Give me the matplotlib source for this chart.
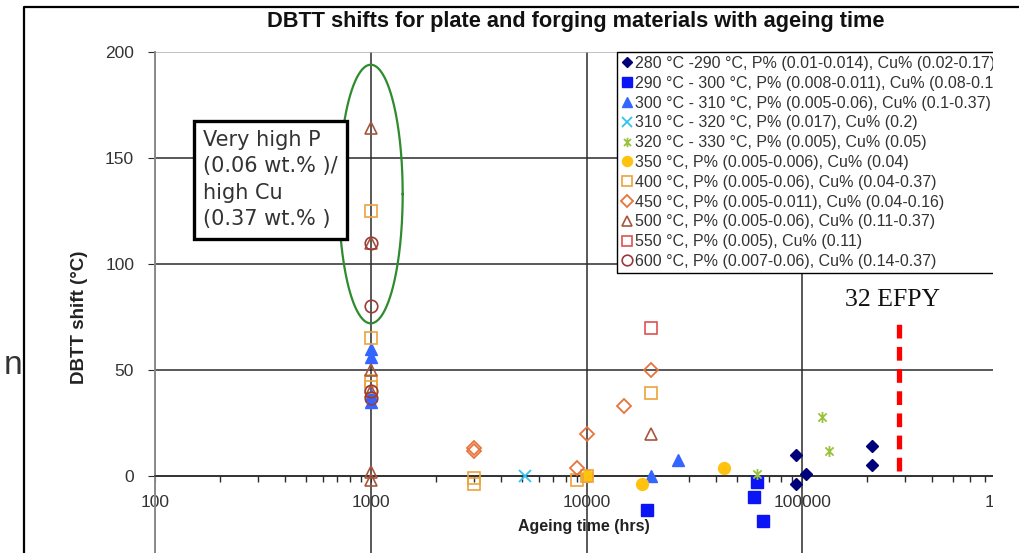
import numpy as np
import matplotlib
matplotlib.use("Agg")
import matplotlib.pyplot as plt
from matplotlib.lines import Line2D
from matplotlib.patches import Rectangle
from matplotlib.path import Path
from matplotlib.ticker import FixedLocator, FuncFormatter, LogLocator, NullFormatter

plt.rcParams["font.family"] = ["Liberation Sans", "DejaVu Sans"]

# --- data (ageing time in hrs, DBTT shift in degC) ---
labels = [
    "280 °C -290 °C, P% (0.01-0.014), Cu% (0.02-0.17)",
    "290 °C - 300 °C, P% (0.008-0.011), Cu% (0.08-0.13)",
    "300 °C - 310 °C, P% (0.005-0.06), Cu% (0.1-0.37)",
    "310 °C - 320 °C, P% (0.017), Cu% (0.2)",
    "320 °C - 330 °C, P% (0.005), Cu% (0.05)",
    "350 °C, P% (0.005-0.006), Cu% (0.04)",
    "400 °C, P% (0.005-0.06), Cu% (0.04-0.37)",
    "450 °C, P% (0.005-0.011), Cu% (0.04-0.16)",
    "500 °C, P% (0.005-0.06), Cu% (0.11-0.37)",
    "550 °C, P% (0.005), Cu% (0.11)",
    "600 °C, P% (0.007-0.06), Cu% (0.14-0.37)",
]
x280 = [94000, 94000, 104000, 210000, 210000]
y280 = [10, -4, 1, 14, 5]
x290 = [19000, 62000, 60000, 66000]
y290 = [-16, -3, -10, -21]
x300 = [1000, 1000, 1000, 1000, 20000, 26500]
y300 = [60, 56, 38, 35, 0, 7.5]
x310 = [5200]
y310 = [0]
x320 = [62000, 123000, 133000]
y320 = [1, 28, 12]
x350 = [10000, 18000, 43500]
y350 = [0, -4, 4]
x400 = [1000, 1000, 1000, 1000, 3000, 3000, 9000, 10000, 20000]
y400 = [125, 65, 45, 42, -1, -4, -2, 0, 39]
x450 = [3000, 3000, 9000, 10000, 15000, 20000]
y450 = [13, 12, 4, 20, 33, 50]
x500 = [1000, 1000, 1000, 1000, 1000, 1000, 20000]
y500 = [164, 110, 50, 40, 2, -2, 20]
x550 = [20000]
y550 = [70]
x600 = [1000, 1000, 1000, 1000]
y600 = [110, 80, 40, 37]

efpy_hours = 32 * 8766  # 32 EFPY
efpy_top = 75
x_ticks = [100, 1000, 10000, 100000, 1000000]
y_ticks = [0, 50, 100, 150, 200]

# asterisk marker (x with a vertical bar), like Excel's star
star = Path(
    [(-1, -1), (1, 1), (-1, 1), (1, -1), (0, -1.35), (0, 1.35)],
    [Path.MOVETO, Path.LINETO, Path.MOVETO, Path.LINETO, Path.MOVETO, Path.LINETO],
)

W, H = 1019, 553
fig = plt.figure(figsize=(W / 100, H / 100), dpi=100)

# axes: x 100..1e6 spans px 155..1018, y -50..200 spans px 582..52
ax = fig.add_axes([155 / W, (H - 582) / H, 863 / W, 530 / H])
ax.set_xscale("log")
ax.set_xlim(100, 1000000)
ax.set_ylim(-50, 200)

series = [
    (x280, y280, dict(marker="D", ms=6.5, mfc="#00007a", mec="#00007a")),
    (x290, y290, dict(marker="s", ms=8, mfc="#0a14f5", mec="#0a14f5")),
    (x300, y300, dict(marker="^", ms=8.5, mfc="#3366ff", mec="#3366ff")),
    (x310, y310, dict(marker="x", ms=8, mfc="none", mec="#33c3f0", mew=1.3)),
    (x320, y320, dict(marker=star, ms=8, mfc="none", mec="#99c33c", mew=1.3)),
    (x350, y350, dict(marker="o", ms=8.5, mfc="#ffc20e", mec="#ffc20e")),
    (x400, y400, dict(marker="s", ms=8.5, mfc="none", mec="#eba33c", mew=1.2)),
    (x450, y450, dict(marker="D", ms=7, mfc="none", mec="#e8743c", mew=1.3)),
    (x500, y500, dict(marker="^", ms=8.5, mfc="none", mec="#a8553c", mew=1.2)),
    (x550, y550, dict(marker="s", ms=9, mfc="none", mec="#e05050", mew=1.2)),
    (x600, y600, dict(marker="o", ms=9, mfc="none", mec="#9c3a3a", mew=1.2)),
]
handles = []
for (xs, ys, st), lab in zip(series, labels):
    h, = ax.plot(xs, ys, ls="none", label=lab, zorder=3, **st)
    handles.append(h)

# grid, spines, ticks
ax.set_axisbelow(True)
ax.xaxis.set_major_locator(FixedLocator(x_ticks))
ax.xaxis.set_minor_locator(LogLocator(base=10, subs=np.arange(2, 10)))
ax.xaxis.set_major_formatter(FuncFormatter(lambda v, p: f"{v:.0f}"))
ax.xaxis.set_minor_formatter(NullFormatter())
ax.set_yticks(y_ticks)
ax.grid(True, which="major", color="#2b2b2b", lw=1.1)
ax.yaxis.get_gridlines()[-1].set_color("#b0b0b0")
ax.xaxis.get_gridlines()[0].set_visible(False)
for s in ("top", "right"):
    ax.spines[s].set_visible(False)
ax.spines["bottom"].set_position(("data", 0))
ax.spines["bottom"].set_color("#2b2b2b")
ax.spines["bottom"].set_linewidth(1.1)
ax.spines["left"].set_color("#8a8a8a")
ax.spines["left"].set_linewidth(1.4)
ax.tick_params(axis="x", which="both", direction="out", color="#2b2b2b",
               labelsize=12.5, labelcolor="#333333", pad=10)
ax.tick_params(axis="x", which="major", length=4)
ax.tick_params(axis="x", which="minor", length=4, width=1)
ax.tick_params(axis="y", direction="out", length=5, color="#2b2b2b",
               labelsize=12.5, labelcolor="#333333", pad=10)

ax.set_xlabel("Ageing time (hrs)", fontsize=11.5, fontweight="bold", color="#222222")
ax.xaxis.set_label_coords(0.497, (582 - 527) / 530)
ax.xaxis.label.set_va("center")
ax.set_ylabel("DBTT shift (°C)", fontsize=13.5, fontweight="bold", color="#222222")
ax.yaxis.set_label_coords((88 - 155) / 863, 0.5)

# green ellipse around the 1000 h cluster
t = np.linspace(0, 2 * np.pi, 300)
ax.plot(1000 * 10 ** (0.148 * np.cos(t)), 133 + 61 * np.sin(t),
        color="#2e8b2e", lw=1.6, zorder=2)

# 32 EFPY marker
ax.plot([efpy_hours, efpy_hours], [2.5, efpy_top], color="#ff0000", lw=3.8,
        dashes=(2.6, 1.6), zorder=3)
ax.text(efpy_hours * 0.93, 83, "32 EFPY", family="Liberation Serif", fontsize=18.5,
        ha="center", va="center", color="#111111")

# annotation box
ax.annotate("Very high P\n(0.06 wt.% )/\nhigh Cu\n(0.37 wt.% )",
            xy=(203 / W, (H - 130) / H), xycoords="figure fraction",
            ha="left", va="top", family="DejaVu Sans", fontsize=15,
            color="#333333", linespacing=1.4,
            bbox=dict(boxstyle="square,pad=0.45", fc="white", ec="black", lw=2.4),
            zorder=4)

leg = ax.legend(handles=handles, loc="upper left",
                bbox_to_anchor=(617 / W, (H - 52) / H), bbox_transform=fig.transFigure,
                fontsize=11.5, handlelength=0.7, handletextpad=0.15, labelspacing=0.3,
                borderpad=0.25, borderaxespad=0, frameon=True, fancybox=False,
                edgecolor="black", framealpha=1, markerscale=0.85)
leg.get_frame().set_linewidth(1.0)
for txt in leg.get_texts():
    txt.set_color("#333333")
leg.set_zorder(5)

# the reference is cropped on the right: blank out past x=993
fig.add_artist(Rectangle((993 / W, 0), (W - 993) / W, (H - 11) / H,
                         transform=fig.transFigure, fc="white", ec="none", zorder=10))

# title and outer chart frame
fig.text(576 / W, 1 - 22 / H, "DBTT shifts for plate and forging materials with ageing time",
         ha="center", va="center", fontsize=15.7, fontweight="bold", color="#111111")
fig.add_artist(Line2D([24 / W, 24 / W, 1], [0, 1 - 7 / H, 1 - 7 / H],
                      transform=fig.transFigure, color="black", lw=1.6, zorder=11))
fig.text(13 / W, 1 - 366 / H, "n", fontsize=24, color="#333333", ha="center", va="center")

fig.savefig("out.png", dpi=100)
